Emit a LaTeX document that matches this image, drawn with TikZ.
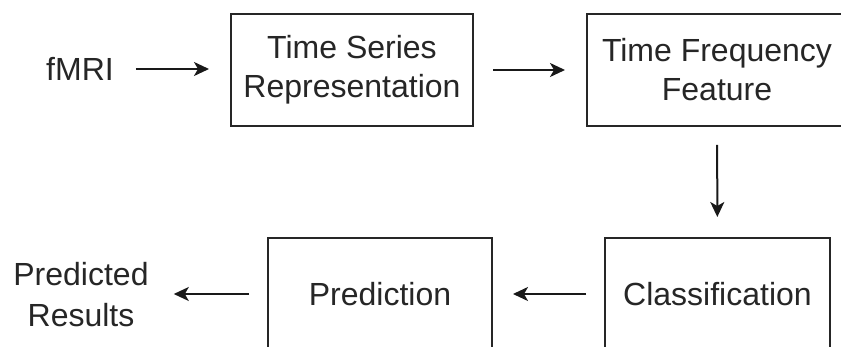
\documentclass[tikz,border=0pt]{standalone}
\usepackage{fontspec}
\setmainfont{Liberation Sans}
\usetikzlibrary{arrows.meta}
\begin{document}
\begin{tikzpicture}[x=1pt,y=-1pt,
  txt/.style={text=black!85, font=\fontsize{32}{39}\selectfont, align=center},
  box/.style={txt, draw=black!85, line width=2pt, rectangle, inner sep=0pt, minimum height=112pt},
  lbl/.style={txt, inner sep=0pt},
  conn/.style={draw=black!90, line width=2pt, -{Stealth[length=15pt,width=14pt,inset=4pt]}}]
\useasboundingbox (0,0) rectangle (841,347);
\clip (0,0) rectangle (841,347);
\fill[white] (0,0) rectangle (841,347);
\node[box, minimum width=242pt] (tsr) at (352,70) {Time Series\\Representation};
\node[box, minimum width=260pt] (tff) at (717,70) {Time Frequency\\Feature};
\node[box, minimum width=225pt] (cls) at (717.5,294) {Classification};
\node[box, minimum width=224pt] (pred) at (380,294) {Prediction};
\node[lbl] (fmri) at (80,69) {fMRI};
\node[lbl, font=\fontsize{32}{41}\selectfont] (res) at (81,295) {Predicted\\Results};
\draw[conn, shorten <=22pt, shorten >=21pt] (fmri.east) -- (fmri.east -| tsr.west);
\draw[conn, shorten <=19pt, shorten >=21pt] (tsr) -- (tff);
\draw[conn, shorten <=18pt, shorten >=20pt] (tff) -- (cls);
\draw[conn, shorten <=18pt, shorten >=20pt] (cls) -- (pred);
\draw[conn, shorten <=18pt, shorten >=25pt] (pred.west) -- (pred.west -| res.east);
\end{tikzpicture}
\end{document}
